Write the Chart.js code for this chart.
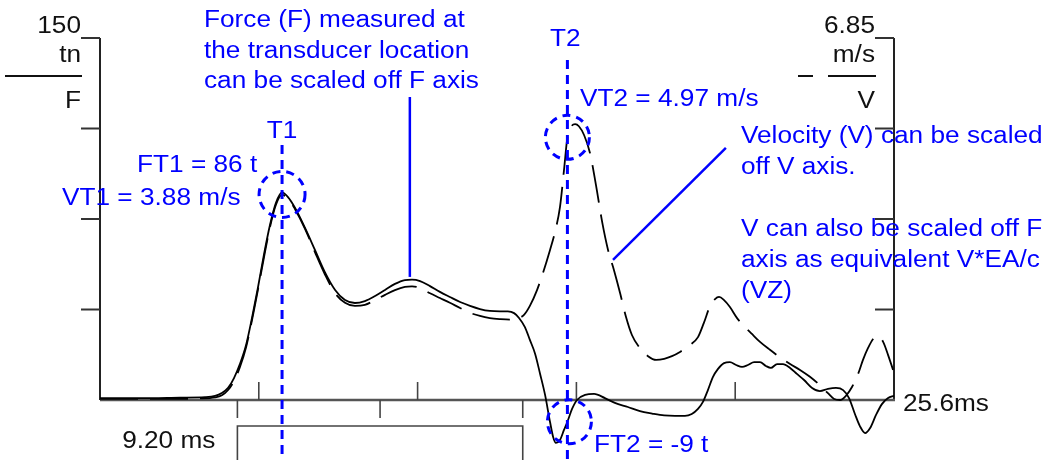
<!DOCTYPE html>
<html>
<head>
<meta charset="utf-8">
<title>Pile dynamic test record: force and velocity</title>
<script src="https://cdn.jsdelivr.net/npm/chart.js@4/dist/chart.umd.min.js"></script>
<style>
  html, body { margin: 0; padding: 0; background: #ffffff; }
  #wrap { width: 1048px; height: 460px; }
</style>
</head>
<body>
<div id="wrap"><canvas id="c" width="1048" height="460"></canvas></div>
<script>
// ---- Record data (time in ms) ----
const forceTimeMs = [0.00, 1.29, 2.58, 3.39, 3.71, 3.93, 4.13, 4.32, 4.51, 4.71, 4.90, 5.09, 5.29, 5.48, 5.67, 5.87,
  6.06, 6.29, 6.61, 6.93, 7.25, 7.58, 7.90, 8.22, 8.54, 8.87, 9.19, 9.51, 9.83, 10.06, 10.32, 10.64, 10.96, 11.28,
  11.61, 11.93, 12.25, 12.57, 12.90, 13.15, 13.35, 13.51, 13.70, 13.86, 14.03, 14.19, 14.35, 14.51, 14.61, 14.70,
  14.83, 14.96, 15.07, 15.22, 15.38, 15.64, 15.93, 16.28, 16.60, 17.02, 17.41, 17.80, 18.19, 18.54, 18.86, 19.08,
  19.28, 19.44, 19.60, 19.76, 19.92, 20.12, 20.31, 20.51, 20.70, 20.89, 21.09, 21.28, 21.47, 21.63, 21.83, 22.02,
  22.25, 22.47, 22.70, 22.96, 23.21, 23.47, 23.73, 23.96, 24.15, 24.34, 24.50, 24.67, 24.83, 25.02, 25.21, 25.41, 25.60];
// Force F at the transducer (t)
const forceTn = [0.8, 0.8, 1.0, 1.2, 1.7, 2.9, 5.0, 9.1, 14.9, 22.8, 34.0, 46.4, 60.5, 72.5, 81.6, 86,
  84.1, 79.6, 71.3, 62.2, 53.0, 45.6, 41.4, 40.2, 41.0, 43.1, 45.6, 48.1, 49.7, 49.9, 49.3, 47.2, 44.8, 42.7,
  40.6, 39.0, 37.7, 36.9, 36.7, 36.7, 36.0, 34.0, 30.2, 24.9, 19.1, 10.8, 2.1, -9.1, -15.3, -17.8,
  -16.6, -12.4, -9, -3.7, 0, 2.1, 2.5, 0.8, -1.2, -2.9, -4.6, -5.6, -6.4, -6.6, -6.6, -5.8,
  -3.7, -0.8, 4.1, 9.5, 12.8, 15.3, 15.7, 14.5, 13.7, 14.5, 15.7, 15.7, 14.1, 13.3, 14.9, 14.9,
  13.3, 10.8, 8.3, 5.0, 3.7, 4.6, 5.0, 4.1, 0.8, -5.8, -10.8, -13.7, -11.6, -6.2, -1.7, 0.8, 1.7];

const velTimeMs = [0.00, 1.61, 3.22, 3.71, 3.93, 4.13, 4.32, 4.51, 4.71, 4.90, 5.09, 5.29, 5.48, 5.67, 5.87,
  6.06, 6.29, 6.61, 6.93, 7.25, 7.58, 7.90, 8.22, 8.54, 8.87, 9.19, 9.51, 9.83, 10.06, 10.32, 10.64, 10.96,
  11.28, 11.61, 11.93, 12.25, 12.57, 12.90, 13.22, 13.48, 13.67, 13.86, 14.09, 14.28, 14.51, 14.67, 14.83,
  14.96, 15.07, 15.19, 15.32, 15.44, 15.61, 15.80, 15.99, 16.19, 16.38, 16.57, 16.77, 16.96, 17.15, 17.41,
  17.67, 17.93, 18.19, 18.44, 18.70, 19.02, 19.28, 19.47, 19.67, 19.83, 19.96, 20.12, 20.31, 20.54, 20.80,
  21.02, 21.28, 21.60, 21.92, 22.25, 22.57, 22.89, 23.21, 23.47, 23.67, 23.86, 24.05, 24.25, 24.44, 24.60,
  24.76, 24.92, 25.08, 25.25, 25.41, 25.57];
// Velocity V (m/s)
const velMs = [0.02, 0.02, 0.03, 0.05, 0.09, 0.19, 0.36, 0.62, 1.00, 1.51, 2.08, 2.71, 3.27, 3.69, 3.88,
  3.82, 3.61, 3.24, 2.80, 2.38, 2.02, 1.84, 1.78, 1.80, 1.89, 1.99, 2.08, 2.14, 2.15, 2.12, 2.02, 1.93,
  1.84, 1.74, 1.65, 1.59, 1.55, 1.53, 1.52, 1.55, 1.61, 1.78, 2.08, 2.40, 2.84, 3.18, 3.65,
  4.35, 4.97, 5.17, 5.22, 5.18, 5.01, 4.67, 4.07, 3.37, 2.84, 2.46, 2.02, 1.57, 1.23, 0.98,
  0.83, 0.76, 0.78, 0.83, 0.91, 1.04, 1.19, 1.46, 1.78, 1.91, 1.95, 1.89, 1.76, 1.55, 1.38,
  1.25, 1.10, 0.95, 0.81, 0.68, 0.57, 0.44, 0.28, 0.13, 0.02, 0.00, 0.08, 0.25, 0.49, 0.76,
  0.98, 1.15, 1.21, 1.10, 0.85, 0.57];

// ---- Axes ----
const recordEndMs = 25.6;
const timeTickMs = [5.12, 10.24, 15.36, 20.48];
const forceAxisMax = 150, forceAxisMin = -24.86;
const forceTickTn = [150, 112.5, 75, 37.5];
const velAxisMax = 6.85, velAxisMin = -1.135;
const velTickMs = [6.85, 5.1375, 3.425, 1.7125];

// ---- Marked times and readings ----
const t1Ms = 5.87;
const t2Ms = 15.07;
const waveTimeMs = 9.20;        // 2L/c window
const waveWindowStartMs = 4.43;
const ft1Tn = 86, vt1Ms = 3.88, vt2Ms = 4.97, ft2Tn = -9;
const forcePointer = { t: 9.99, f: 51 };
const velPointerFrom = { t: 20.18, v: 4.77 };
const velPointerTo = { t: 16.54, v: 2.65 };

const forceNote = ['Force (F) measured at', 'the transducer location', 'can be scaled off F axis'];
const velNote = ['Velocity (V) can be scaled', 'off V axis.', '', 'V can also be scaled off F', 'axis as equivalent V*EA/c', '(VZ)'];

const BLUE = '#0000ff';
const INK = '#111111';
const FONT = '23px "Liberation Sans", Arial, Helvetica, sans-serif';

function text(ctx, s, x, y, align, color) {
  ctx.save();
  ctx.font = FONT;
  ctx.fillStyle = color;
  ctx.textAlign = align;
  ctx.textBaseline = 'alphabetic';
  ctx.translate(x, y);
  ctx.scale(1.14, 1);
  ctx.fillText(s, 0, 0);
  ctx.restore();
}
function seg(ctx, x1, y1, x2, y2, color, w, dash) {
  ctx.save();
  ctx.strokeStyle = color;
  ctx.lineWidth = w;
  ctx.setLineDash(dash || []);
  ctx.beginPath();
  ctx.moveTo(x1, y1);
  ctx.lineTo(x2, y2);
  ctx.stroke();
  ctx.restore();
}
function ring(ctx, x, y, r) {
  ctx.save();
  ctx.strokeStyle = BLUE;
  ctx.lineWidth = 3;
  ctx.setLineDash([8, 6]);
  ctx.beginPath();
  ctx.arc(x, y, r, 0, Math.PI * 2);
  ctx.stroke();
  ctx.restore();
}

// Frame, ticks and axis captions, drawn under the traces
const framePlugin = {
  id: 'pileFrame',
  beforeDatasetsDraw(chart) {
    const ctx = chart.ctx;
    const xs = chart.scales.x, yF = chart.scales.yF, yV = chart.scales.yV;
    const x0 = xs.getPixelForValue(0), x1 = xs.getPixelForValue(recordEndMs);
    const yTop = yF.getPixelForValue(forceAxisMax), yZero = yF.getPixelForValue(0);

    // force axis (left)
    seg(ctx, x0, yTop, x0, yZero, '#222', 2);
    forceTickTn.forEach(v => { const y = yF.getPixelForValue(v); seg(ctx, x0 - 19, y, x0, y, '#333', 2); });
    // velocity axis (right)
    seg(ctx, x1, yV.getPixelForValue(velAxisMax), x1, yZero, '#222', 2);
    velTickMs.forEach(v => { const y = yV.getPixelForValue(v); seg(ctx, x1 - 19, y, x1, y, '#333', 2); });
    // time base line
    seg(ctx, x0, yZero, x1 + 1, yZero, '#555', 2.5);
    timeTickMs.forEach(t => { const x = xs.getPixelForValue(t); seg(ctx, x, yZero, x, yZero - 18, '#444', 1.6); });

    // 2L/c window below the base line
    const wa = xs.getPixelForValue(waveWindowStartMs), wb = xs.getPixelForValue(waveWindowStartMs + waveTimeMs);
    const wm = (wa + wb) / 2;
    [wa, wm, wb].forEach(x => seg(ctx, x, yZero, x, yZero + 18, '#444', 1.6));
    ctx.save();
    ctx.strokeStyle = '#444';
    ctx.lineWidth = 1.6;
    ctx.beginPath();
    ctx.moveTo(wa, 462); ctx.lineTo(wa, 426); ctx.lineTo(wb, 426); ctx.lineTo(wb, 462);
    ctx.stroke();
    ctx.restore();
    text(ctx, waveTimeMs.toFixed(2) + ' ms', wa - 22, 448, 'right', INK);
    text(ctx, recordEndMs.toFixed(1) + 'ms', x1 + 9, 411, 'left', INK);

    // left caption: 150 / tn / F
    text(ctx, String(forceAxisMax), x0 - 19, 33, 'right', INK);
    text(ctx, 'tn', x0 - 19, 62, 'right', INK);
    seg(ctx, 5, 76, x0 - 18, 76, INK, 2);
    text(ctx, 'F', x0 - 19, 108, 'right', INK);
    // right caption: 6.85 / m/s / V
    text(ctx, velAxisMax.toFixed(2), x1 - 19, 33, 'right', INK);
    text(ctx, 'm/s', x1 - 19, 62, 'right', INK);
    seg(ctx, x1 - 66, 76, x1 - 18, 76, INK, 2);
    seg(ctx, x1 - 96, 76, x1 - 81, 76, INK, 2);
    text(ctx, 'V', x1 - 19, 108, 'right', INK);
  },
  afterDatasetsDraw(chart) {
    const ctx = chart.ctx;
    const xs = chart.scales.x, yF = chart.scales.yF, yV = chart.scales.yV;
    const xt1 = xs.getPixelForValue(t1Ms), xt2 = xs.getPixelForValue(t2Ms);

    // T1 / T2 markers
    seg(ctx, xt1, 145, xt1, 462, BLUE, 3, [9, 6]);
    seg(ctx, xt2, 60, xt2, 462, BLUE, 3, [9, 6]);
    text(ctx, 'T1', xt1, 138, 'center', BLUE);
    text(ctx, 'T2', xt2 - 2, 46, 'center', BLUE);

    ring(ctx, xt1, yF.getPixelForValue(ft1Tn) + 2, 23);
    ring(ctx, xt2, yV.getPixelForValue(vt2Ms), 22);
    ring(ctx, xt2 + 2, yF.getPixelForValue(ft2Tn), 22);

    text(ctx, 'FT1 = ' + ft1Tn + ' t', 137, 172, 'left', BLUE);
    text(ctx, 'VT1 = ' + vt1Ms.toFixed(2) + ' m/s', 62, 205, 'left', BLUE);
    text(ctx, 'VT2 = ' + vt2Ms.toFixed(2) + ' m/s', 580, 106, 'left', BLUE);
    text(ctx, 'FT2 = ' + ft2Tn + ' t', 594, 452, 'left', BLUE);

    // notes and pointers
    forceNote.forEach((s, i) => text(ctx, s, 204, 27 + i * 30.5, 'left', BLUE));
    const fpx = xs.getPixelForValue(forcePointer.t);
    seg(ctx, fpx, 97, fpx, yF.getPixelForValue(forcePointer.f), BLUE, 2.5);
    velNote.forEach((s, i) => { if (s) text(ctx, s, 741, 143 + i * 31, 'left', BLUE); });
    seg(ctx, xs.getPixelForValue(velPointerFrom.t), yV.getPixelForValue(velPointerFrom.v),
             xs.getPixelForValue(velPointerTo.t), yV.getPixelForValue(velPointerTo.v), BLUE, 2.5);
  }
};

new Chart(document.getElementById('c'), {
  type: 'line',
  data: {
    datasets: [
      {
        label: 'F',
        data: forceTimeMs.map((t, i) => ({ x: t, y: forceTn[i] })),
        yAxisID: 'yF',
        borderColor: '#000000',
        borderWidth: 1.8,
        pointRadius: 0,
        cubicInterpolationMode: 'monotone',
        fill: false
      },
      {
        label: 'V',
        data: velTimeMs.map((t, i) => ({ x: t, y: velMs[i] })),
        yAxisID: 'yV',
        borderColor: '#000000',
        borderWidth: 1.8,
        borderDash: [38, 12],
        pointRadius: 0,
        cubicInterpolationMode: 'monotone',
        fill: false
      }
    ]
  },
  options: {
    responsive: false,
    animation: false,
    devicePixelRatio: 1,
    layout: { padding: { left: 100, right: 154, top: 38, bottom: 0 } },
    plugins: { legend: { display: false }, tooltip: { enabled: false } },
    scales: {
      x: { type: 'linear', min: 0, max: recordEndMs, display: false },
      yF: { type: 'linear', position: 'left', min: forceAxisMin, max: forceAxisMax, display: false },
      yV: { type: 'linear', position: 'right', min: velAxisMin, max: velAxisMax, display: false }
    }
  },
  plugins: [framePlugin]
});
</script>
</body>
</html>
